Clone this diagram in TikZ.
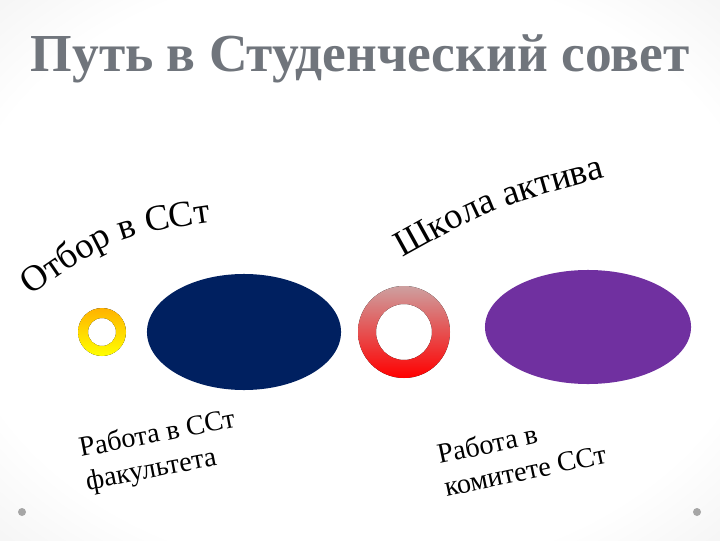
\documentclass[tikz,border=0pt]{standalone}
\usepackage{fontspec}
\setmainfont{Liberation Serif}
\usetikzlibrary{shapes.geometric,decorations.text}
\pgfdeclareradialshading{vignette}{\pgfpoint{0bp}{0bp}}{color(0bp)=(white); color(28bp)=(white); color(50bp)=(black!11); color(71bp)=(black!16)}
\definecolor{navyblob}{RGB}{0,32,96}
\definecolor{purpleblob}{RGB}{112,48,160}
\definecolor{titlegray}{RGB}{112,117,124}
\definecolor{rosyring}{RGB}{205,160,160}
\begin{document}
\begin{tikzpicture}[x=0.025cm,y=0.025cm,
  blob/.style={ellipse,inner sep=0pt},
  steplabel/.style={align=left,font=\fontsize{20}{24}\selectfont,inner sep=0pt}]
\def\ry{24}
\def\rr{46} % red ring outer radius
\useasboundingbox (0,0) rectangle (720,540);
\shade[shading=vignette] (0,0) rectangle (720,540);
\node[font=\bfseries\fontsize{38}{42}\selectfont,text=titlegray] (title) at (360,481) {Путь в Студенческий совет};
\coordinate (yellow) at (102,208);
\coordinate (red) at (404,208);
\fill[even odd rule,top color=orange!60!yellow,bottom color=yellow] (yellow) circle (\ry) circle (14);
\node[blob,fill=navyblob,minimum width=4.85cm,minimum height=2.9cm] (navy) at (244,208) {};
\fill[even odd rule,top color=rosyring,bottom color=red] (red) circle (\rr) circle (28);
\node[blob,fill=purpleblob,minimum width=5.15cm,minimum height=2.85cm] (purple) at (588,213) {};
\path[decorate,decoration={text along path,text align=left,
  text={|\fontsize{26}{30}\selectfont|Отбор в ССт}}]
  (31,244) .. controls (117,304) .. (212,318);
\path[decorate,decoration={text along path,text align=left,
  text={|\fontsize{26}{30}\selectfont|Школа актива}}]
  (402,282) .. controls (492,332) .. (612,364);
\node[steplabel,rotate=11,anchor=north west] (faculty) at (77,103) {Работа в ССт\\факультета};
\node[steplabel,rotate=12,anchor=north west] (committee) at (435,96) {Работа в\\комитете ССт};
\fill[gray!70] (22,28) circle (4);
\fill[gray!70] (697,28) circle (4);
\end{tikzpicture}
\end{document}
